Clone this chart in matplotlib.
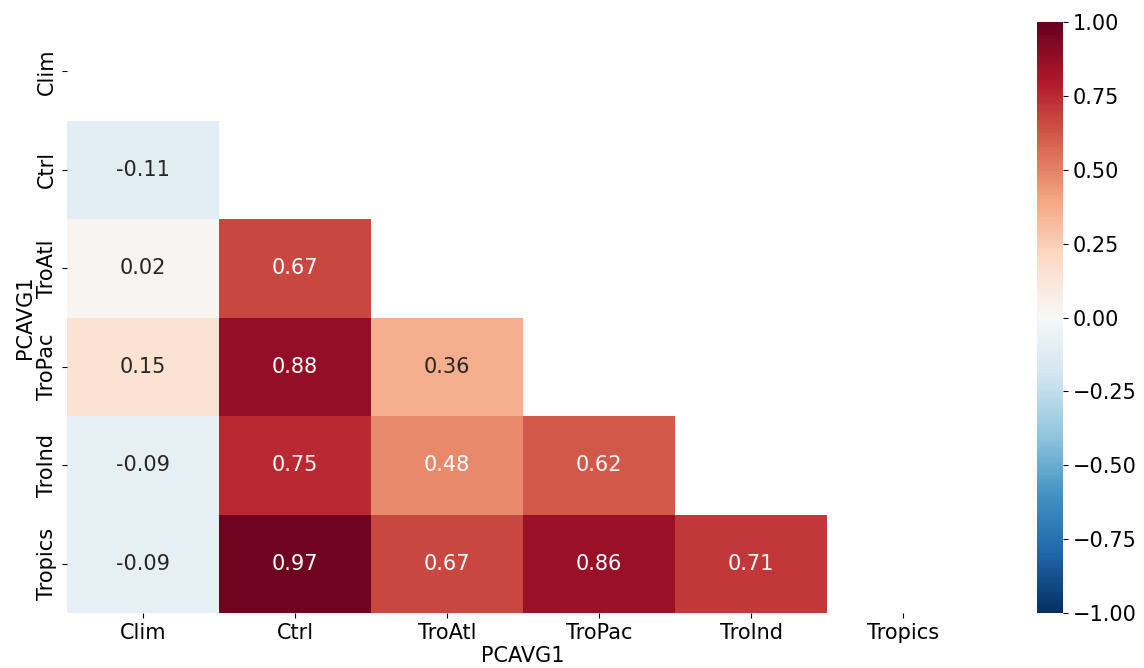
import numpy as np
import matplotlib
matplotlib.use("Agg")
import matplotlib.pyplot as plt
import seaborn as sns

labels = ["Clim", "Ctrl", "TroAtl", "TroPac", "TroInd", "Tropics"]
# lower triangle of the correlation matrix, row by row
row_ctrl = [-0.11]
row_troatl = [0.02, 0.67]
row_tropac = [0.15, 0.88, 0.36]
row_troind = [-0.09, 0.75, 0.48, 0.62]
row_tropics = [-0.09, 0.97, 0.67, 0.86, 0.71]

rows = [[], row_ctrl, row_troatl, row_tropac, row_troind, row_tropics]
n = len(labels)
corr = np.eye(n)
for i, r in enumerate(rows):
    for j, v in enumerate(r):
        corr[i, j] = v
        corr[j, i] = v

mask = np.triu(np.ones_like(corr, dtype=bool))

plt.rcParams['font.size'] = 15
fig = plt.figure(figsize=(11.44, 6.68), dpi=100)
ax = fig.add_axes([0.0586, 0.0823, 0.7974, 0.8847])
cax = fig.add_axes([0.9065, 0.0823, 0.0227, 0.8847])

sns.heatmap(corr, mask=mask, cmap="RdBu_r", vmin=-1, vmax=1, annot=True, fmt=".2f",
            annot_kws={"size": 15}, xticklabels=labels, yticklabels=labels,
            ax=ax, cbar_ax=cax)
ax.set_xlabel("PCAVG1", fontsize=15, labelpad=2)
ax.set_ylabel("PCAVG1", fontsize=15, labelpad=2)
ax.tick_params(axis='both', labelsize=15)
plt.setp(ax.get_yticklabels(), rotation=90, va='center')
plt.setp(ax.get_xticklabels(), rotation=0)
cax.tick_params(labelsize=15)

fig.savefig("out.png", dpi=100)
